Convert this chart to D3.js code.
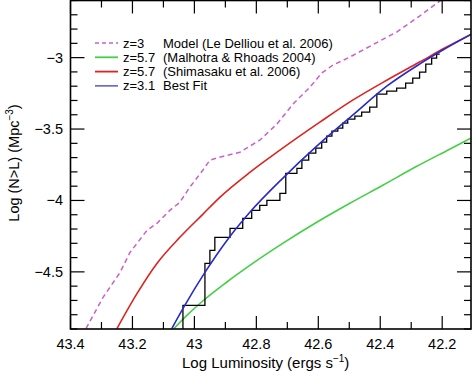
<!DOCTYPE html>
<html><head><meta charset="utf-8">
<script src="https://cdn.jsdelivr.net/npm/d3@7/dist/d3.min.js"></script>
<style>
body{margin:0;background:#fff}
svg{display:block}
text{font-family:"Liberation Sans",Arial,sans-serif;fill:#000}
</style>
</head><body>
<svg id="c" width="474" height="371"></svg>
<script>
// ---- tick labels ----
const xTickValues = [43.4, 43.2, 43.0, 42.8, 42.6, 42.4, 42.2];
const xTickLabels = ["43.4", "43.2", "43", "42.8", "42.6", "42.4", "42.2"];
const yTickValues = [-3, -3.5, -4, -4.5];
const yTickLabels = ["\u22123", "\u22123.5", "\u22124", "\u22124.5"];

// ---- legend ----
const legendZ = ["z=3", "z=5.7", "z=5.7", "z=3.1"];
const legendText = ["Model (Le Delliou et al. 2006)", "(Malhotra & Rhoads 2004)", "(Shimasaku et al. 2006)", "Best Fit"];

// ---- series: z=3 model (Le Delliou et al. 2006) ----
const modelL = [43.350, 43.295, 43.240, 43.208, 43.153, 43.121, 43.079, 43.047, 43.015, 42.973, 42.950, 42.918, 42.853, 42.789, 42.734, 42.682, 42.627, 42.589, 42.553, 42.498, 42.402, 42.347, 42.273, 42.208, 42.170];
const modelN = [-4.897, -4.679, -4.504, -4.364, -4.209, -4.160, -4.069, -4.013, -3.908, -3.789, -3.718, -3.697, -3.662, -3.578, -3.466, -3.326, -3.207, -3.108, -3.052, -2.996, -2.884, -2.821, -2.709, -2.604, -2.560];

// ---- series: z=5.7 (Malhotra & Rhoads 2004) ----
const malhotraL = [43.066, 43.021, 42.973, 42.895, 42.821, 42.715, 42.605, 42.498, 42.392, 42.282, 42.176, 42.108];
const malhotraN = [-4.897, -4.798, -4.704, -4.571, -4.455, -4.301, -4.153, -4.020, -3.894, -3.761, -3.641, -3.564];

// ---- series: z=5.7 (Shimasaku et al. 2006) ----
const shimasakuL = [43.250, 43.185, 43.121, 43.047, 42.973, 42.918, 42.821, 42.724, 42.595, 42.489, 42.379, 42.273, 42.192, 42.105];
const shimasakuN = [-4.897, -4.651, -4.441, -4.258, -4.097, -3.978, -3.803, -3.648, -3.452, -3.298, -3.158, -3.031, -2.933, -2.835];

// ---- series: z=3.1 best fit ----
const fitL = [43.073, 43.031, 42.966, 42.895, 42.821, 42.715, 42.605, 42.531, 42.489, 42.379, 42.273, 42.198, 42.105];
const fitN = [-4.897, -4.735, -4.504, -4.280, -4.083, -3.845, -3.620, -3.480, -3.403, -3.200, -3.045, -2.947, -2.835];

// ---- observed cumulative counts (step) ----
const obsL = [43.037, 43.037, 42.966, 42.950, 42.934, 42.885, 42.844, 42.815, 42.789, 42.766, 42.724, 42.705, 42.669, 42.653, 42.631, 42.608, 42.589, 42.573, 42.556, 42.537, 42.521, 42.505, 42.482, 42.460, 42.434, 42.411, 42.379, 42.347, 42.318, 42.295, 42.273, 42.253, 42.234, 42.218, 42.208];
const obsN = [-4.950, -4.735, -4.441, -4.350, -4.258, -4.195, -4.125, -4.069, -4.034, -3.999, -3.950, -3.810, -3.775, -3.718, -3.669, -3.634, -3.592, -3.550, -3.515, -3.494, -3.459, -3.431, -3.410, -3.382, -3.347, -3.256, -3.235, -3.214, -3.179, -3.143, -3.101, -3.045, -3.003, -2.975, -2.975];

const colors = {model: "#cc5fd0", malhotra: "#44d044", shimasaku: "#e0231f", fit: "#2a2ac8", obs: "#000"};

const svg = d3.select("#c");
const L = 70.5, R = 471, T = 0.5, B = 329;
const x = d3.scaleLinear().domain([43.4, 42.107]).range([L, R]);
const y = d3.scaleLinear().domain([-4.9, -2.6]).range([B, T]);

svg.append("defs").append("clipPath").attr("id", "clip")
  .append("rect").attr("x", L).attr("y", T).attr("width", R - L).attr("height", B - T);

const plot = svg.append("g").attr("clip-path", "url(#clip)");
const line = d3.line().x(d => x(d[0])).y(d => y(d[1])).curve(d3.curveMonotoneX);
const zip = (a, b) => a.map((v, i) => [v, b[i]]);

plot.append("path").datum(zip(malhotraL, malhotraN)).attr("d", line)
  .attr("fill", "none").attr("stroke", colors.malhotra).attr("stroke-width", 1.6);
plot.append("path").datum(zip(shimasakuL, shimasakuN)).attr("d", line)
  .attr("fill", "none").attr("stroke", colors.shimasaku).attr("stroke-width", 1.6);
plot.append("path").datum(zip(modelL, modelN)).attr("d", d3.line().x(d => x(d[0])).y(d => y(d[1])))
  .attr("fill", "none").attr("stroke", colors.model).attr("stroke-width", 1.5).attr("stroke-dasharray", "5,3.5");
plot.append("path").datum(zip(obsL, obsN)).attr("d", d3.line().x(d => x(d[0])).y(d => y(d[1])).curve(d3.curveStepAfter))
  .attr("fill", "none").attr("stroke", colors.obs).attr("stroke-width", 1.3);
plot.append("path").datum(zip(fitL, fitN)).attr("d", line)
  .attr("fill", "none").attr("stroke", colors.fit).attr("stroke-width", 1.6);

// ---- ticks (inward, on all four sides) ----
const axes = svg.append("g").attr("stroke", "#000");
const xMinor = d3.range(43.4, 42.1, -0.1).map(v => +v.toFixed(1));
const yMinor = d3.range(-4.9, -2.59, 0.1).map(v => +v.toFixed(1));
const isMajorX = v => xTickValues.some(t => Math.abs(t - v) < 1e-6);
const isMajorY = v => yTickValues.some(t => Math.abs(t - v) < 1e-6);
xMinor.forEach(v => {
  const len = isMajorX(v) ? 13 : 7;
  axes.append("line").attr("x1", x(v)).attr("x2", x(v)).attr("y1", B).attr("y2", B - len).attr("stroke-width", 1.2);
  axes.append("line").attr("x1", x(v)).attr("x2", x(v)).attr("y1", T).attr("y2", T + len).attr("stroke-width", 1.2);
});
yMinor.forEach(v => {
  const len = isMajorY(v) ? 14 : 7;
  axes.append("line").attr("y1", y(v)).attr("y2", y(v)).attr("x1", L).attr("x2", L + len).attr("stroke-width", 1.2);
  axes.append("line").attr("y1", y(v)).attr("y2", y(v)).attr("x1", R).attr("x2", R - len).attr("stroke-width", 1.2);
});
svg.append("rect").attr("x", L).attr("y", T).attr("width", R - L).attr("height", B - T)
  .attr("fill", "none").attr("stroke", "#000").attr("stroke-width", 1.6);

// ---- tick labels ----
xTickValues.forEach((v, i) => {
  svg.append("text").attr("x", x(v)).attr("y", 349).attr("text-anchor", "middle")
    .attr("font-size", 14.5).text(xTickLabels[i]);
});
yTickValues.forEach((v, i) => {
  svg.append("text").attr("x", 63).attr("y", y(v) + 5).attr("text-anchor", "end")
    .attr("font-size", 14.5).text(yTickLabels[i]);
});

// ---- axis titles ----
const xt = svg.append("text").attr("x", 182).attr("y", 368).attr("font-size", 15);
xt.append("tspan").text("Log Luminosity (ergs s");
xt.append("tspan").attr("dy", -6).attr("font-size", 10).text("\u22121");
xt.append("tspan").attr("dy", 6).text(")");

const yt = svg.append("text").attr("transform", "translate(19,163) rotate(-90)")
  .attr("text-anchor", "middle").attr("font-size", 14.5);
yt.append("tspan").text("Log (N>L) (Mpc");
yt.append("tspan").attr("dy", -6).attr("font-size", 10).text("\u22123");
yt.append("tspan").attr("dy", 6).text(")");

// ---- legend ----
const legendColors = [colors.model, colors.malhotra, colors.shimasaku, colors.fit];
const legendDash = ["4,3", null, null, null];
const legendWidth = [1.3, 1.8, 1.8, 1.2];
legendZ.forEach((z, i) => {
  const ly = 43 + i * 14.3;
  svg.append("line").attr("x1", 95).attr("x2", 118).attr("y1", ly).attr("y2", ly)
    .attr("stroke", legendColors[i]).attr("stroke-width", legendWidth[i])
    .attr("stroke-dasharray", legendDash[i]);
  svg.append("text").attr("x", 123).attr("y", ly + 4.5).attr("font-size", 13).text(z);
  svg.append("text").attr("x", 163).attr("y", ly + 4.5).attr("font-size", 13).text(legendText[i]);
});
</script>
</body></html>
